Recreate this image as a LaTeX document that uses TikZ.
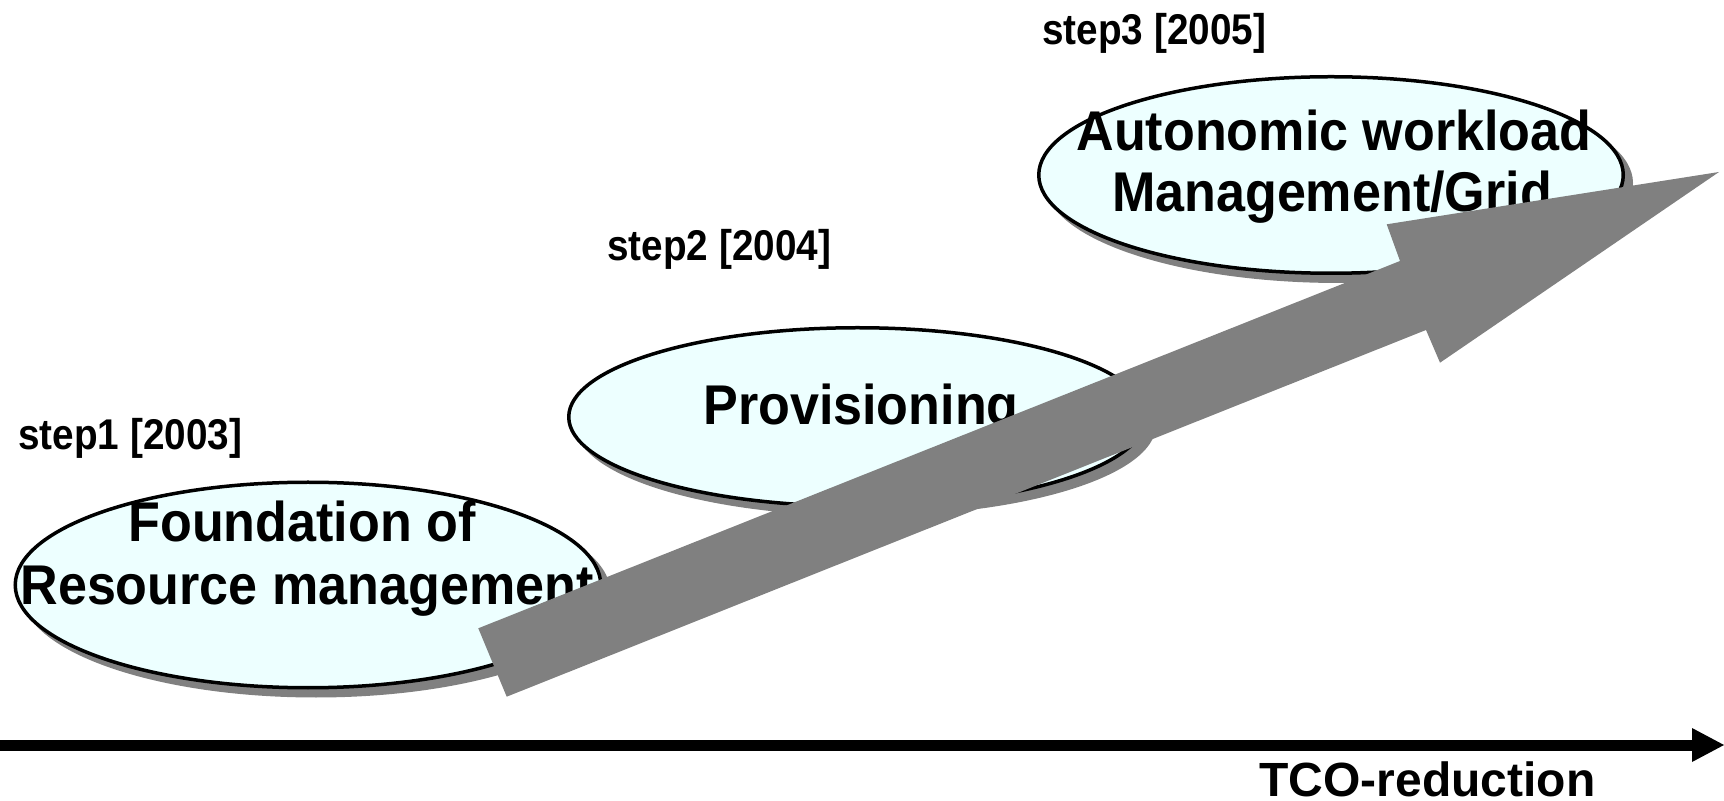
\documentclass[tikz,border=0pt]{standalone}
\usepackage{fontspec}
\setmainfont{Liberation Sans}
\newfontfamily\ellfont{Liberation Sans Bold}[FakeStretch=0.93]
\newfontfamily\stepfont{Liberation Sans Bold}[FakeStretch=0.9]
\newfontfamily\tcofont{Liberation Sans Bold}
\usetikzlibrary{arrows.meta,shapes.geometric}
\definecolor{ellfill}{HTML}{EDFFFF}
\definecolor{arrowgray}{HTML}{808080}
\begin{document}
\begin{tikzpicture}[x=0.5pt,y=-0.5pt,
  ellbox/.style={ellipse, draw=black, line width=1.75pt, fill=ellfill, inner sep=0pt, outer sep=0pt},
  ellshadow/.style={ellipse, fill=arrowgray, inner sep=0pt, outer sep=0pt},
  elltext/.style={font=\ellfont\fontsize{28}{30}\selectfont, anchor=base, inner sep=0pt},
  steplabel/.style={font=\stepfont\fontsize{21.5}{24}\selectfont, anchor=base west, inner sep=0pt},
  axislabel/.style={font=\tcofont\fontsize{24}{26}\selectfont, anchor=base west, inner sep=0pt},
  axisline/.style={line width=5.5pt, -{Triangle[length=16pt,width=17pt,line width=0pt]}},
  bigarrow/.style={fill=arrowgray}
]
\useasboundingbox (0,0) rectangle (1724,801);

% shadows
\node[ellshadow, minimum width=294.5pt, minimum height=104.5pt] (s1) at (316,593) {};
\node[ellshadow, minimum width=290.5pt, minimum height=91pt] (s2) at (865.5,425) {};
\node[ellshadow, minimum width=294pt, minimum height=100pt] (s3) at (1339,183) {};

% ellipses
\node[ellbox, minimum width=292.75pt, minimum height=102.75pt] (e1) at (308,585) {};
\node[ellbox, minimum width=288.75pt, minimum height=89.25pt] (e2) at (857.5,417) {};
\node[ellbox, minimum width=292.25pt, minimum height=98.25pt] (e3) at (1331,175) {};

% ellipse texts
\node[elltext] (t1a) at (302,542) {Foundation of};
\node[elltext] (t1b) at (307,605) {Resource management};
\node[elltext] (t2) at (861,425) {Provisioning};
\node[elltext] (t3a) at (1334,151) {Autonomic workload};
\node[elltext] (t3b) at (1332,212) {Management/Grid};

% step labels
\node[steplabel] (l1) at (18,450) {step1 [2003]};
\node[steplabel] (l2) at (607,261) {step2 [2004]};
\node[steplabel] (l3) at (1042,45) {step3 [2005]};

% big gray arrow
\fill[bigarrow] (478.3,628.3) -- (1400,261) -- (1386.7,224.3) -- (1719,172)
  -- (1440,362.7) -- (1426,330) -- (506.7,696.7) -- cycle;

% axis
\coordinate (ax0) at (0,745);
\coordinate (ax1) at (1724,745);
\draw[axisline] (ax0) -- (ax1);
\node[axislabel] (tco) at (1259,796) {TCO-reduction};
\end{tikzpicture}
\end{document}
